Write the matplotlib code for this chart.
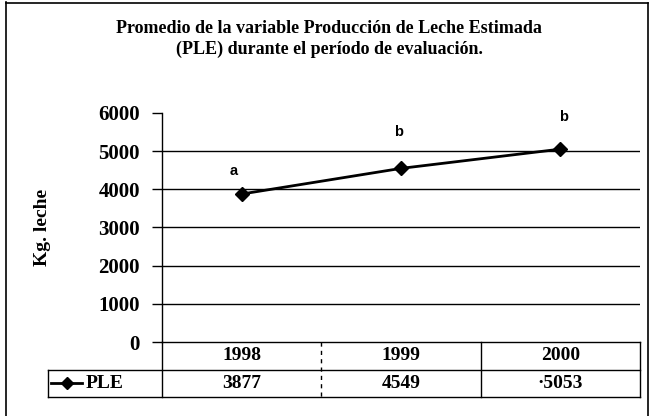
import matplotlib
matplotlib.use("Agg")
import matplotlib.pyplot as plt
import matplotlib.transforms as mtransforms
from matplotlib.lines import Line2D

# =========================================================
# DATA
# =========================================================

years = ["1998", "1999", "2000"]
ple = [3877, 4549, 5053]
ple_labels = ["3877", "4549", "\u00b75053"]
letters = ["a", "b", "b"]
yticks = [0, 1000, 2000, 3000, 4000, 5000, 6000]

title = ("Promedio de la variable Producción de Leche Estimada\n"
         "(PLE) durante el período de evaluación.")

# letter offsets from each point (pixels) - just styling
letter_off = [(-8, 23), (-2, 36), (3, 32)]

# =========================================================
# FIGURE
# =========================================================

plt.rcParams["font.family"] = "Liberation Serif"
plt.rcParams["font.weight"] = "bold"

W, H = 652, 416
fig = plt.figure(figsize=(W / 100, H / 100), dpi=100)

# outer frame (left, top, right only - bottom is cut in the scan)
for xs, ys in [([6, 6], [2, 416]), ([6, 648], [3, 3]), ([648, 648], [3, 416])]:
    fig.add_artist(Line2D([v / W for v in xs], [1 - v / H for v in ys],
                          transform=fig.transFigure, color="black", lw=1.2))

left, right, top, bottom = 162, 640, 113, 342
ax = fig.add_axes([left / W, 1 - bottom / H, (right - left) / W, (bottom - top) / H])

x = list(range(len(years)))
ax.plot(x, ple, color="black", lw=2, marker="D", ms=7, mfc="black", mec="black")

for xi, yi, lt, (dx, dy) in zip(x, ple, letters, letter_off):
    ax.annotate(lt, (xi, yi), xytext=(dx * 0.72, dy * 0.72), textcoords="offset points",
                ha="center", va="center", fontsize=10.5, fontfamily="Liberation Sans",
                fontweight="bold")

ax.set_xlim(-0.5, len(years) - 0.5)
ax.set_ylim(0, 6000)
ax.set_yticks(yticks)
ax.set_yticklabels([str(v) for v in yticks], fontsize=15, fontweight="bold")
ax.set_xticks([])
ax.tick_params(axis="y", direction="out", length=7, width=1, pad=9)

for v in yticks[1:-1]:
    ax.axhline(v, color="black", lw=1)

for s in ["top", "right", "bottom"]:
    ax.spines[s].set_visible(False)
ax.spines["left"].set_linewidth(1)

ax.set_ylabel("Kg. leche", fontsize=14, fontweight="bold")
ax.yaxis.set_label_coords((51 - left) / (right - left), 0.5)

fig.text(0.505, 1 - 39 / H, title, ha="center", va="center", fontsize=13,
         fontweight="bold", linespacing=1.25)

# =========================================================
# DATA TABLE UNDER THE AXIS
# =========================================================

trans = mtransforms.blended_transform_factory(ax.transData, ax.transAxes)
row_h = 27.5 / (bottom - top)
y0, y1, y2 = 0, -row_h, -2 * row_h
xl = -0.5
xr = len(years) - 0.5
col_w = (right - left) / len(years)
leg_left = xl - (left - 48) / col_w

def hline(xa, xb, y):
    ax.add_line(Line2D([xa, xb], [y, y], transform=trans, color="black", lw=1, clip_on=False))

def vline(xv, ya, yb, ls="-"):
    ax.add_line(Line2D([xv, xv], [ya, yb], transform=trans, color="black", lw=1,
                       ls=ls, clip_on=False))

hline(xl, xr, y0)
hline(leg_left, xr, y1)
hline(leg_left, xr, y2)
vline(xl, y0, y2)
vline(leg_left, y1, y2)
vline(xr, y0, y2)
vline(0.5, y0, y2, ls=(0, (3, 3)))
vline(1.5, y0, y2)

for xi, yr, val in zip(x, years, ple_labels):
    ax.text(xi, (y0 + y1) / 2, yr, transform=trans, ha="center", va="center",
            fontsize=14, fontweight="bold")
    ax.text(xi, (y1 + y2) / 2, val, transform=trans, ha="center", va="center",
            fontsize=14, fontweight="bold")

# legend key in the table
ym = (y1 + y2) / 2
px = 1 / col_w
ax.add_line(Line2D([leg_left + 3 * px, leg_left + 34 * px], [ym, ym], transform=trans,
                   color="black", lw=2, clip_on=False))
ax.add_line(Line2D([leg_left + 19 * px], [ym], transform=trans, marker="D", ms=6,
                   color="black", clip_on=False))
ax.text(leg_left + 38 * px, ym, "PLE", transform=trans, ha="left", va="center",
        fontsize=14, fontweight="bold")

fig.savefig("out.png", dpi=100)
